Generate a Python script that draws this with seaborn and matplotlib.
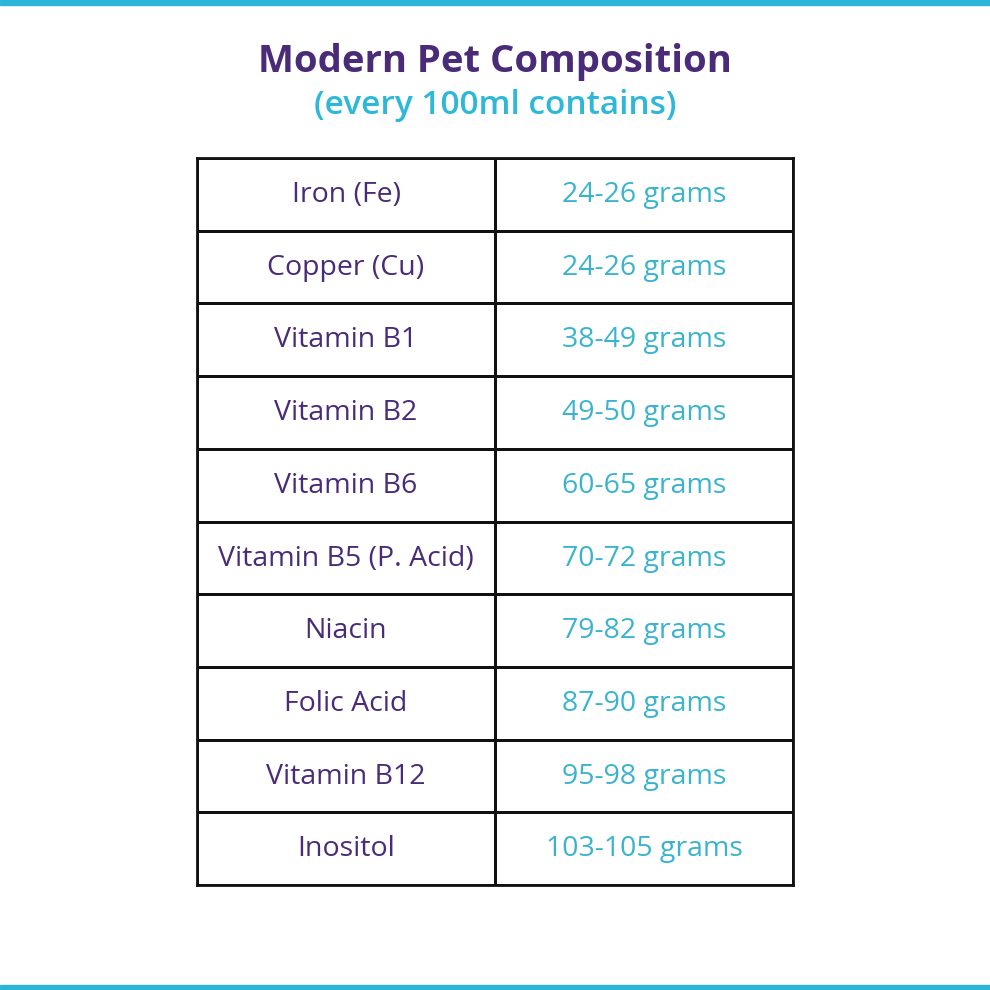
import numpy as np
import pandas as pd
import matplotlib
matplotlib.use("Agg")
import matplotlib.pyplot as plt
from matplotlib.patches import Rectangle
import seaborn as sns

title = "Modern Pet Composition"
subtitle = "(every 100ml contains)"
nutrients = ["Iron (Fe)", "Copper (Cu)", "Vitamin B1", "Vitamin B2", "Vitamin B6",
             "Vitamin B5 (P. Acid)", "Niacin", "Folic Acid", "Vitamin B12", "Inositol"]
amounts = ["24-26 grams", "24-26 grams", "38-49 grams", "49-50 grams", "60-65 grams",
           "70-72 grams", "79-82 grams", "87-90 grams", "95-98 grams", "103-105 grams"]

PURPLE = "#4A2B78"
TEAL = "#3AB4CE"
SUB = "#2DB8DA"
BAR = "#2BB6D8"

sns.set_theme(style="white")
plt.rcParams['font.family'] = ['Open Sans', 'DejaVu Sans']

fig = plt.figure(figsize=(9.9, 9.9), dpi=100)
fig.patch.set_facecolor("white")
ax = fig.add_axes([197/990, 1-885/990, 596/990, 727/990])

grid = pd.DataFrame(np.zeros((len(nutrients), 2)))
labels = np.array([nutrients, amounts]).T
sns.heatmap(grid, ax=ax, cmap=matplotlib.colors.ListedColormap(["white"]), cbar=False,
            annot=labels, fmt="", linewidths=2, linecolor="#111111",
            annot_kws={"fontsize": 20.5})
for t in ax.texts:
    x, y = t.get_position()
    t.set_color(PURPLE if x < 1 else TEAL)
    t.set_position((x, y + 0.01))
ax.set_xticks([]); ax.set_yticks([])
ax.set_xlabel(""); ax.set_ylabel("")
for s in ax.spines.values():
    s.set_visible(True); s.set_color("#111111"); s.set_linewidth(2)

fig.patches.append(Rectangle((0, 1-5/990), 1, 5/990, transform=fig.transFigure, color=BAR, zorder=5))
fig.patches.append(Rectangle((0, 0), 1, 5/990, transform=fig.transFigure, color=BAR, zorder=5))

fig.text(0.5, 1-62/990, title, ha="center", va="center", fontsize=27.5, fontweight="bold", color=PURPLE)
fig.text(0.5, 1-105/990, subtitle, ha="center", va="center", fontsize=24, fontweight="semibold", color=SUB)

fig.savefig("out.png", dpi=100, facecolor="white")
